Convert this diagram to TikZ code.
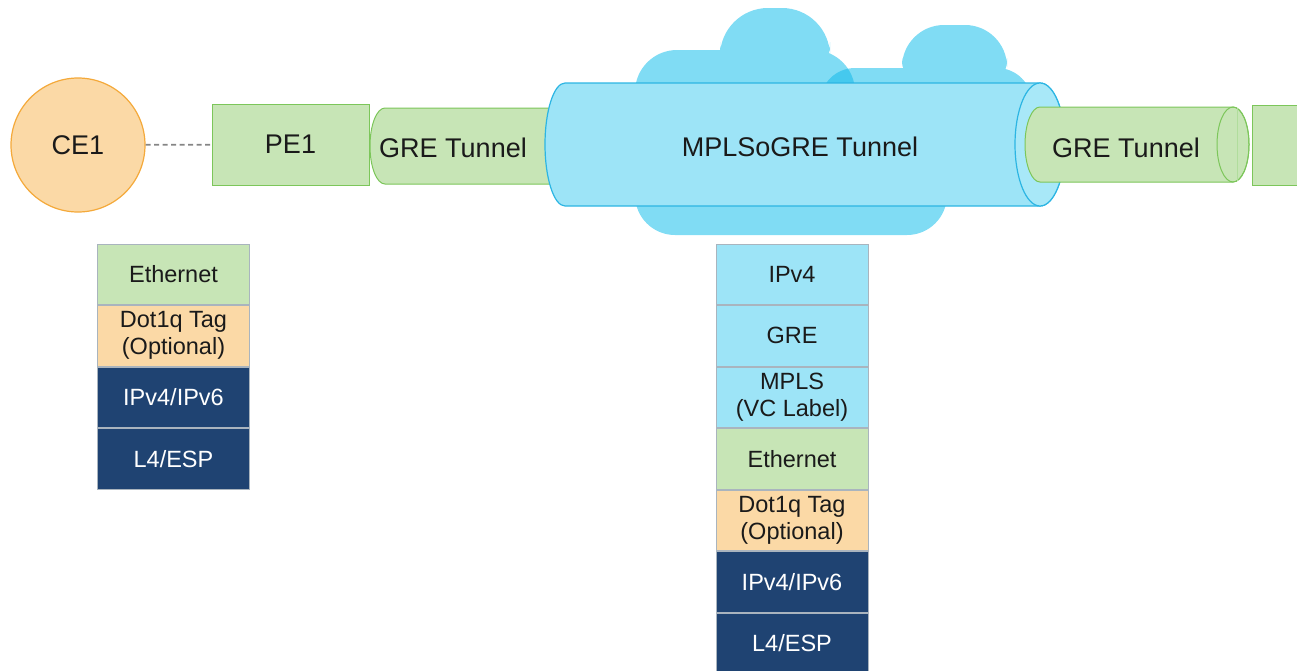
\documentclass[tikz,border=0pt]{standalone}
\usepackage{fontspec}
\setmainfont{Liberation Sans}
\usetikzlibrary{positioning}
\definecolor{cloudc}{HTML}{80DCF4}
\definecolor{cylc}{HTML}{9DE4F7}
\definecolor{capc}{HTML}{A8E8F8}
\definecolor{cyld}{HTML}{2CB5E3}
\definecolor{overl}{HTML}{45C9EE}
\definecolor{grnf}{HTML}{C7E5B6}
\definecolor{grnd}{HTML}{7CC65A}
\definecolor{orgf}{HTML}{FBD9A6}
\definecolor{orgd}{HTML}{F4A93A}
\definecolor{navy}{HTML}{1F4372}
\definecolor{sepc}{HTML}{A9B4BE}
\definecolor{txt}{HTML}{1A1A1A}
\definecolor{dashc}{HTML}{858585}
\begin{document}
\begin{tikzpicture}[x=1pt,y=-1pt,
  layer/.style={rectangle, draw=sepc, line width=0.8pt, minimum width=152.2pt, minimum height=60.7pt, inner sep=0pt, align=center, font=\fontsize{23.5}{27}\selectfont, text=txt},
  bluel/.style={layer, fill=cylc},
  greenl/.style={layer, fill=grnf},
  orangel/.style={layer, fill=orgf},
  navyl/.style={layer, fill=navy, text=white},
  lbl/.style={font=\fontsize{27}{32}\selectfont, text=txt, inner sep=0pt},
  greenshape/.style={fill=grnf, draw=grnd, line width=1pt},
  cylshape/.style={fill=cylc, draw=cyld, line width=1.2pt},
  linkline/.style={dashc, line width=1.7pt, dash pattern=on 5pt off 3.5pt}
]
\useasboundingbox (0,0) rectangle (1297,670);
\clip (0,0) rectangle (1297,670);

% cloud behind
\fill[cloudc, rounded corners=42pt] (635,50) rectangle (855,160);
\fill[cloudc, rounded corners=48pt] (720,8) rectangle (830,90);
\fill[cloudc, rounded corners=35pt] (820,68) rectangle (1032,150);
\fill[cloudc, rounded corners=42pt] (902,25) rectangle (1007,100);
\fill[cloudc, rounded corners=40pt] (635,140) rectangle (947,235);
\begin{scope}
  \clip[rounded corners=42pt] (635,50) rectangle (855,160);
  \fill[overl, rounded corners=35pt] (820,68) rectangle (1032,150);
\end{scope}

% left GRE tunnel (behind the MPLSoGRE cylinder)
\draw[greenshape] (600,108) -- (385,108) arc[start angle=-90, end angle=-270, x radius=15, y radius=38] -- (600,184) -- cycle;

% MPLSoGRE cylinder
\draw[cylshape] (1040,83) -- (565,83) arc[start angle=-90, end angle=-270, x radius=20, y radius=61.5] -- (1040,206) arc[start angle=90, end angle=-90, x radius=25, y radius=61.5] -- cycle;
\draw[cyld, line width=1.2pt, fill=capc] (1040,144.5) ellipse[x radius=25, y radius=61.5];

% right GRE tunnel
\draw[greenshape] (1233,107) -- (1040,107) arc[start angle=-90, end angle=-270, x radius=15, y radius=37.5] -- (1233,182) arc[start angle=90, end angle=-90, x radius=16, y radius=37.5] -- cycle;
\draw[grnd, line width=1pt] (1233,144.5) ellipse[x radius=16, y radius=37.5];
\draw[grnd!60, line width=0.6pt] (1237,108) -- (1237,181);

% nodes
\node[circle, fill=orgf, draw=orgd, line width=1.2pt, minimum size=134pt, inner sep=0pt, font=\fontsize{27}{32}\selectfont, text=txt] (ce1) at (78,145) {CE1};
\node[rectangle, fill=grnf, draw=grnd, line width=1pt, minimum width=157pt, minimum height=81pt, inner sep=0pt, font=\fontsize{27}{32}\selectfont, text=txt] (pe1) at (290.5,144.5) {PE1};
\node[rectangle, fill=grnf, draw=grnd, line width=1pt, minimum width=80pt, minimum height=80pt, inner sep=0pt] (pe2) at (1292,145) {};

\node[lbl] (gre1) at (453,148) {GRE Tunnel};
\node[lbl] (mpls) at (800,147) {MPLSoGRE Tunnel};
\node[lbl] (gre2) at (1126,148) {GRE Tunnel};

\draw[linkline] (ce1) -- (pe1);

% left stack
\node[greenl] (l1) at (173.5,274.25) {Ethernet};
\node[orangel, below=0pt of l1] (l2) {Dot1q Tag\\(Optional)};
\node[navyl, below=0pt of l2] (l3) {IPv4/IPv6};
\node[navyl, below=0pt of l3] (l4) {L4/ESP};

% middle stack
\node[bluel] (m1) at (792,274.25) {IPv4};
\node[bluel, below=0pt of m1] (m2) {GRE};
\node[bluel, below=0pt of m2] (m3) {MPLS\\(VC Label)};
\node[greenl, below=0pt of m3] (m4) {Ethernet};
\node[orangel, below=0pt of m4] (m5) {Dot1q Tag\\(Optional)};
\node[navyl, below=0pt of m5] (m6) {IPv4/IPv6};
\node[navyl, below=0pt of m6] (m7) {L4/ESP};
\end{tikzpicture}
\end{document}
